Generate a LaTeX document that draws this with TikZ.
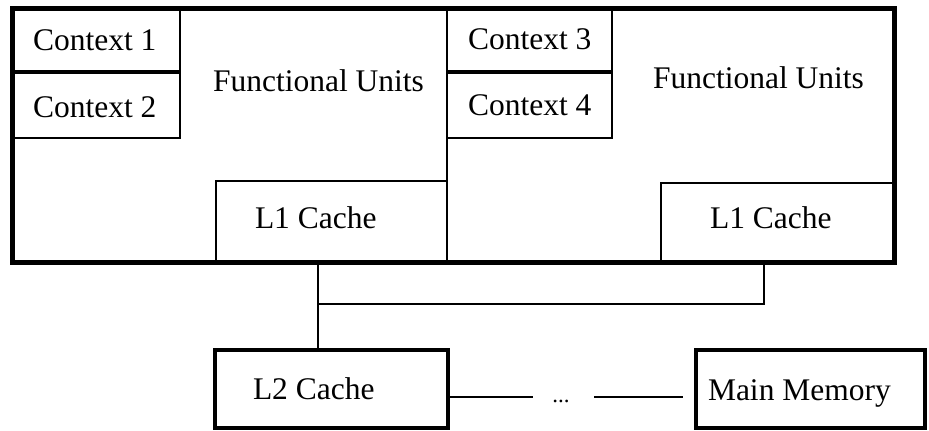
\documentclass[tikz,border=0pt]{standalone}
\usepackage{fontspec}
\setmainfont{Liberation Serif}
\begin{document}
\begin{tikzpicture}[x=1pt,y=-1pt,
  box/.style={draw, rectangle, inner sep=0pt, outer sep=0pt, line width=1.8pt},
  heavybox/.style={box, line width=4.6pt},
  outerbox/.style={box, line width=5pt},
  lbl/.style={anchor=base west, inner sep=0pt, outer sep=0pt, font=\fontsize{31.5}{36}\selectfont},
  wire/.style={line width=1.8pt}]
\useasboundingbox (0,0) rectangle (929,431);
% inner boxes
\node[box, minimum width=168pt, minimum height=63pt] (c1) at (96,39.5) {};
\node[box, minimum width=168pt, minimum height=65pt] (c2) at (96,105.5) {};
\node[box, minimum width=165pt, minimum height=63pt] (c3) at (529.5,39.5) {};
\node[box, minimum width=165pt, minimum height=65pt] (c4) at (529.5,105.5) {};
\node[box, minimum width=231pt, minimum height=81pt] (l1a) at (331.5,221.5) {};
\node[box, minimum width=233pt, minimum height=79pt] (l1b) at (777.5,222.5) {};
% processor box
\node[outerbox, minimum width=882pt, minimum height=254pt] (proc) at (453,135) {};
\draw[wire] (proc.north -| c3.west) -- (proc.south -| c3.west);
% labels
\node[lbl] (t1) at (33,50) {Context 1};
\node[lbl] (t2) at (33,117) {Context 2};
\node[lbl] (t3) at (468,49) {Context 3};
\node[lbl] (t4) at (468,115) {Context 4};
\node[lbl] (fu1) at (213,91) {Functional Units};
\node[lbl] (fu2) at (653,88) {Functional Units};
\node[lbl] (t5) at (255,228) {L1 Cache};
\node[lbl] (t6) at (710,228) {L1 Cache};
% lower boxes
\node[heavybox, minimum width=233pt, minimum height=78pt] (l2) at (331.5,389) {};
\node[heavybox, minimum width=229pt, minimum height=78pt] (mm) at (810.5,389) {};
\node[lbl] (t7) at (253,399) {L2 Cache};
\node[lbl] (t8) at (708,400) {Main Memory};
% bus
\coordinate (j1) at (318,304);
\coordinate (j2) at (764,304);
\draw[wire] (proc.south -| j1) -- (j1) -- (j2) -- (proc.south -| j2);
\draw[wire] (j1) -- (l2.north -| j1);
% chain to main memory
\coordinate (d1) at (533,397);
\coordinate (d2) at (594,397);
\coordinate (d3) at (683,397);
\node[anchor=base, inner sep=0pt, font=\fontsize{23}{26}\selectfont] (dots) at (561,402) {...};
\draw[wire] (l2.east |- d1) -- (d1);
\draw[wire] (d2) -- (d3);
\end{tikzpicture}
\end{document}
